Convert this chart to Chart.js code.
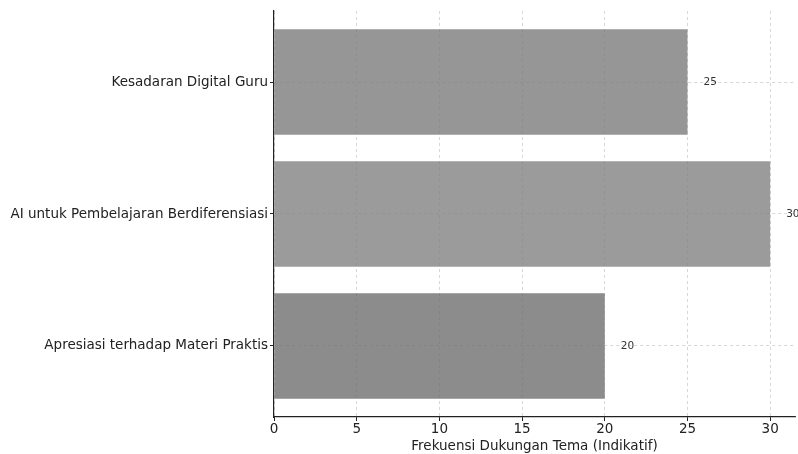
<!DOCTYPE html>
<html>
<head>
<meta charset="utf-8">
<script src="https://cdn.jsdelivr.net/npm/chart.js@4.4.1/dist/chart.umd.min.js"></script>
<style>
  body { margin: 0; background: #fff; }
  #chart { display: block; }
</style>
</head>
<body>
<canvas id="chart" width="798" height="454"></canvas>
<script>
"use strict";

const themes = [
  "Kesadaran Digital Guru",
  "AI untuk Pembelajaran Berdiferensiasi",
  "Apresiasi terhadap Materi Praktis",
];
const frequencies = [25, 30, 20];
const barColors = [
  "rgba(124, 124, 124, 0.8)",
  "rgba(130, 130, 130, 0.8)",
  "rgba(111, 111, 111, 0.8)",
];
const xTicks = [0, 5, 10, 15, 20, 25, 30];
const xTitle = "Frekuensi Dukungan Tema (Indikatif)";

const FONT = "'DejaVu Sans', sans-serif";
const TEXT = "#222";

// nilai di kanan setiap batang
const valueLabels = {
  id: "valueLabels",
  afterDatasetsDraw(chart) {
    const ctx = chart.ctx;
    const meta = chart.getDatasetMeta(0);
    ctx.save();
    ctx.font = "10.5px " + FONT;
    ctx.fillStyle = "#333";
    ctx.textAlign = "left";
    ctx.textBaseline = "middle";
    meta.data.forEach((bar, i) => {
      ctx.fillText(String(frequencies[i]), bar.x + 16, bar.y);
    });
    ctx.restore();
  },
};

const points = frequencies.map((v, i) => ({ x: v, y: i }));

new Chart(document.getElementById("chart"), {
  type: "bar",
  data: {
    datasets: [
      {
        data: points,
        backgroundColor: barColors,
        borderWidth: 0,
        barPercentage: 0.8,
        categoryPercentage: 1,
      },
    ],
  },
  options: {
    indexAxis: "y",
    responsive: false,
    animation: false,
    layout: {
      padding: { top: 11, right: 3, bottom: 0, left: 0 },
    },
    plugins: {
      legend: { display: false },
      tooltip: { enabled: false },
    },
    scales: {
      x: {
        type: "linear",
        min: 0,
        max: 31.5,
        afterBuildTicks: (scale) => {
          scale.ticks = xTicks.map((v) => ({ value: v }));
        },
        afterFit: (scale) => {
          scale.height = 37;
        },
        grid: {
          color: "rgba(0,0,0,0.2)",
          lineWidth: 0.8,
          tickColor: TEXT,
          tickLength: 4,
          tickWidth: 1,
        },
        border: {
          display: true,
          color: TEXT,
          width: 1.2,
          dash: [3, 3],
        },
        ticks: {
          color: TEXT,
          padding: 0,
          font: { family: FONT, size: 13.5 },
        },
        title: {
          display: true,
          text: xTitle,
          color: TEXT,
          padding: { top: 0, bottom: -1 },
          font: { family: FONT, size: 13.5 },
        },
      },
      y: {
        type: "linear",
        reverse: true,
        offset: false,
        min: -0.538,
        max: themes.length - 1 + 0.538,
        afterBuildTicks: (scale) => {
          scale.ticks = themes.map((t, i) => ({ value: i }));
        },
        afterFit: (scale) => {
          scale.width = 274;
        },
        grid: {
          offset: false,
          color: "rgba(0,0,0,0.2)",
          lineWidth: 0.8,
          tickColor: TEXT,
          tickLength: 4,
          tickWidth: 1,
        },
        border: {
          display: true,
          color: TEXT,
          width: 1.2,
          dash: [3, 3],
        },
        ticks: {
          color: TEXT,
          padding: 2,
          font: { family: FONT, size: 13.5 },
          callback: (value) => themes[value],
        },
      },
    },
  },
  plugins: [valueLabels],
});
</script>
</body>
</html>
